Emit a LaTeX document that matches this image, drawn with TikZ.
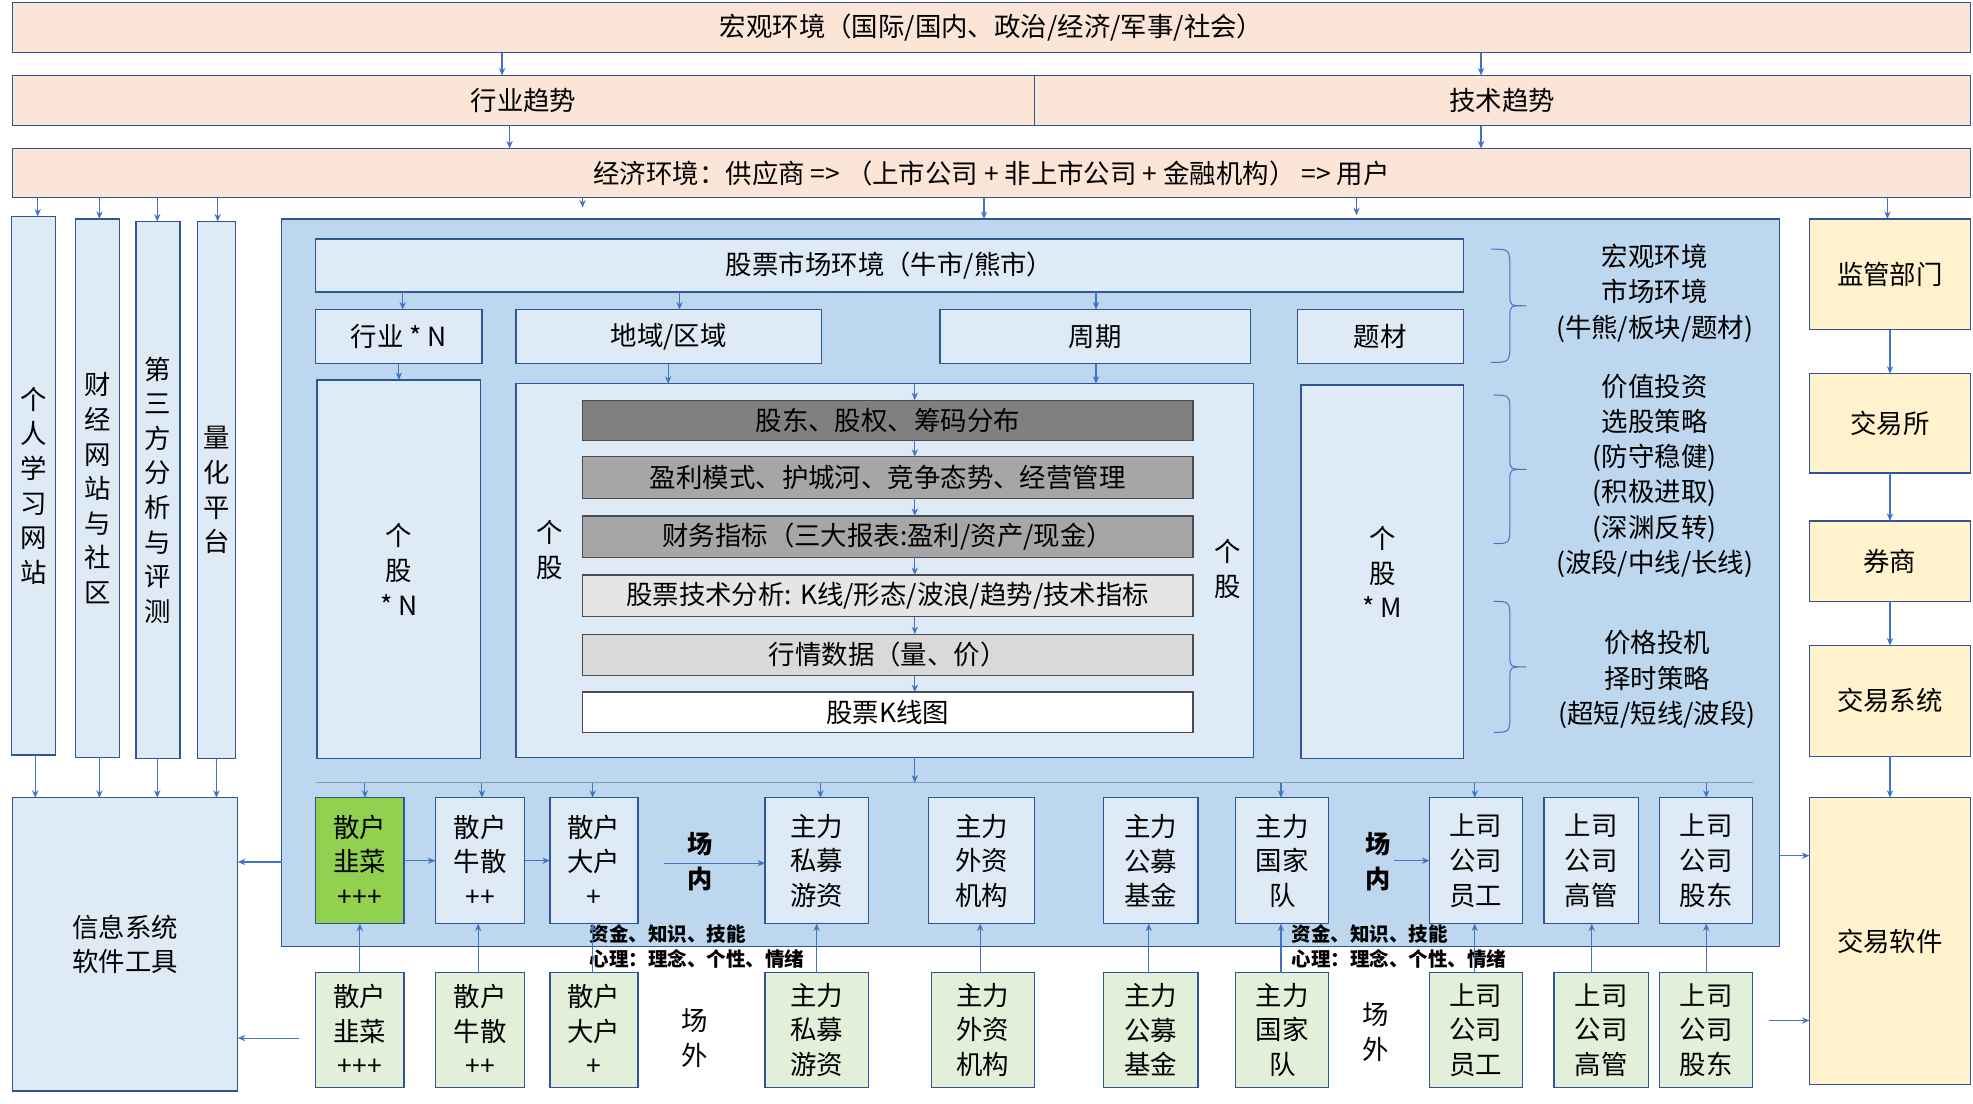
\documentclass[tikz,border=0pt]{standalone}
\usepackage{fontspec}
\setmainfont{Noto Sans CJK SC}
\usetikzlibrary{arrows.meta}
\definecolor{bd}{HTML}{2F5597}
\definecolor{peach}{HTML}{FBE5D6}
\definecolor{lb}{HTML}{DEEBF7}
\definecolor{mb}{HTML}{BDD7EE}
\definecolor{yl}{HTML}{FFF2CC}
\definecolor{lg}{HTML}{E2F0D9}
\definecolor{gr}{HTML}{92D050}
\definecolor{arr}{HTML}{4472C4}
\tikzset{
  bb/.style={draw=bd,line width=1pt,inner sep=0pt,outer sep=0pt,align=center,font=\fontsize{21}{27.5}\selectfont},
  pe/.style={bb,fill=peach},
  lbx/.style={bb,fill=lb},
  yb/.style={bb,fill=yl},
  ob/.style={bb,fill=lg},
  ar/.style={-{Stealth[length=6pt,width=5pt]},draw=arr,line width=0.9pt},
  brk/.style={draw=arr,line width=0.8pt},
  big/.style={font=\fontsize{21}{28}\selectfont,align=center},
  sm/.style={font=\bfseries\fontsize{15.5}{17}\selectfont,anchor=west},
}
\newcommand{\bx}[7]{\node[#6,anchor=north west,minimum width={(#4-#2)*1pt},minimum height={(#5-#3)*1pt}] (#1) at (#2,-#3) {#7};}
\begin{document}
\begin{tikzpicture}[x=1pt,y=1pt]
\useasboundingbox (0,0) rectangle (1568,-877);
\fill[white] (0,0) rectangle (1568,-877);
\bx{top}{10}{2}{1566}{42}{pe}{宏观环境（国际/国内、政治/经济/军事/社会）}
\bx{ind}{10}{60}{822}{100}{pe}{行业趋势}
\bx{tech}{822}{60}{1566}{100}{pe}{技术趋势}
\bx{eco}{10}{118}{1566}{157}{pe}{经济环境：供应商 => （上市公司 + 非上市公司 + 金融机构） => 用户}
\bx{v1}{9}{172}{44}{600}{lbx}{个\\人\\学\\习\\网\\站}
\bx{v2}{60}{174}{95}{602}{lbx}{财\\经\\网\\站\\与\\社\\区}
\bx{v3}{108}{176}{143}{603}{lbx}{第\\三\\方\\分\\析\\与\\评\\测}
\bx{v4}{157}{176}{187}{603}{lbx}{量\\化\\平\\台}
\bx{info}{10}{634}{189}{867}{lbx}{信息系统\\软件工具}
\bx{big}{224}{174}{1414}{752}{bb,fill=mb}{}
\bx{mkt}{251}{190}{1163}{232}{lbx}{股票市场环境（牛市/熊市）}
\bx{hy}{251}{246}{383}{289}{lbx}{行业 * N}
\bx{dy}{410}{246}{653}{289}{lbx}{地域/区域}
\bx{zq}{747}{246}{994}{289}{lbx}{周期}
\bx{tc}{1031}{246}{1163}{289}{lbx}{题材}
\bx{gn}{252}{302}{382}{603}{lbx}{个\\股\\* N}
\bx{mid}{410}{305}{996}{602}{lbx}{}
\bx{gm}{1034}{306}{1163}{603}{lbx}{个\\股\\* M}
\node[big] (ga) at (437,-437) {个\\股};
\node[big] (gb) at (976,-452) {个\\股};
\bx{s1}{463}{318}{948}{350}{bb,draw=black!70,fill=black!50}{股东、股权、筹码分布}
\bx{s2}{463}{363}{948}{396}{bb,draw=black!70,fill=black!35}{盈利模式、护城河、竞争态势、经营管理}
\bx{s3}{463}{410}{948}{443}{bb,draw=black!70,fill=black!35}{财务指标（三大报表:盈利/资产/现金）}
\bx{s4}{463}{457}{948}{490}{bb,draw=black!70,fill=black!10}{股票技术分析: K线/形态/波浪/趋势/技术指标}
\bx{s5}{463}{504}{948}{537}{bb,draw=black!70,fill=black!15}{行情数据（量、价）}
\bx{s6}{463}{550}{948}{582}{bb,draw=black!70,fill=white}{股票K线图}
\draw[draw=bd!60,line width=0.6pt] (251,-622) coordinate (ln1) -- (1393,-622) coordinate (ln2);
\node[big] (n1) at (1315,-233) {宏观环境\\市场环境\\(牛熊/板块/题材)};
\node[big] (n2) at (1315,-378) {价值投资\\选股策略\\(防守稳健)\\(积极进取)\\(深渊反转)\\(波段/中线/长线)};
\node[big] (n3) at (1317,-540) {价格投机\\择时策略\\(超短/短线/波段)};
\draw[brk] (1185,-198) .. controls (1200,-198) .. (1200,-215) -- (1200,-235) .. controls (1200,-243) .. (1213,-243) .. controls (1200,-243) .. (1200,-251) -- (1200,-271) .. controls (1200,-288) .. (1185,-288);
\draw[brk] (1187,-314) .. controls (1200,-314) .. (1200,-330) -- (1200,-365) .. controls (1200,-373) .. (1213,-373) .. controls (1200,-373) .. (1200,-381) -- (1200,-416) .. controls (1200,-432) .. (1187,-432);
\draw[brk] (1187,-478) .. controls (1200,-478) .. (1200,-494) -- (1200,-522) .. controls (1200,-530) .. (1213,-530) .. controls (1200,-530) .. (1200,-538) -- (1200,-566) .. controls (1200,-582) .. (1187,-582);
\bx{jg}{1438}{174}{1566}{262}{yb}{监管部门}
\bx{jys}{1438}{297}{1566}{376}{yb}{交易所}
\bx{qs}{1438}{414}{1566}{478}{yb}{券商}
\bx{jyxt}{1438}{513}{1566}{601}{yb}{交易系统}
\bx{jyrj}{1438}{634}{1566}{862}{yb}{交易软件}
\bx{i1}{251}{634}{321}{734}{bb,fill=gr}{散户\\韭菜\\+++}
\bx{i2}{346}{634}{417}{734}{lbx}{散户\\牛散\\++}
\bx{i3}{437}{634}{507}{734}{lbx}{散户\\大户\\+}
\bx{i4}{608}{634}{690}{734}{lbx}{主力\\私募\\游资}
\bx{i5}{738}{634}{822}{734}{lbx}{主力\\外资\\机构}
\bx{i6}{877}{634}{952}{734}{lbx}{主力\\公募\\基金}
\bx{i7}{982}{634}{1056}{734}{lbx}{主力\\国家\\队}
\bx{i8}{1136}{634}{1210}{734}{lbx}{上司\\公司\\员工}
\bx{i9}{1227}{634}{1302}{734}{lbx}{上司\\公司\\高管}
\bx{i10}{1319}{634}{1393}{734}{lbx}{上司\\公司\\股东}
\node[big,font=\bfseries\fontsize{20}{28}\selectfont] (cn1) at (556,-685) {场\\内};
\node[big,font=\bfseries\fontsize{20}{28}\selectfont] (cn2) at (1095,-685) {场\\内};
\bx{o1}{251}{773}{321}{864}{ob}{散户\\韭菜\\+++}
\bx{o2}{346}{773}{417}{864}{ob}{散户\\牛散\\++}
\bx{o3}{437}{773}{507}{864}{ob}{散户\\大户\\+}
\bx{o4}{608}{773}{690}{864}{ob}{主力\\私募\\游资}
\bx{o5}{740}{773}{822}{864}{ob}{主力\\外资\\机构}
\bx{o6}{877}{773}{952}{864}{ob}{主力\\公募\\基金}
\bx{o7}{982}{773}{1056}{864}{ob}{主力\\国家\\队}
\bx{o8}{1136}{773}{1210}{864}{ob}{上司\\公司\\员工}
\bx{o9}{1235}{773}{1310}{864}{ob}{上司\\公司\\高管}
\bx{o10}{1319}{773}{1393}{864}{ob}{上司\\公司\\股东}
\node[big] (cw1) at (552,-825) {场\\外};
\node[big] (cw2) at (1093,-820) {场\\外};
\node[sm] (l1) at (465,-742) {资金、知识、技能};
\node[sm] (l2) at (465,-762) {心理：理念、个性、情绪};
\node[sm] (l3) at (1023,-742) {资金、知识、技能};
\node[sm] (l4) at (1023,-762) {心理：理念、个性、情绪};
\draw[ar] (top.south -| 399,0) -- (ind.north -| 399,0);
\draw[ar] (top.south -| 1177,0) -- (tech.north -| 1177,0);
\draw[ar] (ind.south -| 405,0) -- (eco.north -| 405,0);
\draw[ar] (tech.south -| 1177,0) -- (eco.north -| 1177,0);
\draw[ar] (eco.south -| 30,0) -- (v1.north -| 30,0);
\draw[ar] (eco.south -| 79,0) -- (v2.north -| 79,0);
\draw[ar] (eco.south -| 125,0) -- (v3.north -| 125,0);
\draw[ar] (eco.south -| 173,0) -- (v4.north -| 173,0);
\draw[ar] (eco.south -| 463,0) -- ++(0,-8);
\draw[ar] (eco.south -| 782,0) -- (big.north -| 782,0);
\draw[ar] (eco.south -| 1078,0) -- ++(0,-14);
\draw[ar] (eco.south -| 1500,0) -- (jg.north -| 1500,0);
\draw[ar] (v1.south -| 28,0) -- (info.north -| 28,0);
\draw[ar] (v2.south -| 79,0) -- (info.north -| 79,0);
\draw[ar] (v3.south -| 125,0) -- (info.north -| 125,0);
\draw[ar] (v4.south -| 172,0) -- (info.north -| 172,0);
\draw[ar] (jg) -- (jys);
\draw[ar] (jys) -- (qs);
\draw[ar] (qs) -- (jyxt);
\draw[ar] (jyxt) -- (jyrj);
\draw[ar] (mkt.south -| 320,0) -- (hy.north -| 320,0);
\draw[ar] (mkt.south -| 540,0) -- (dy.north -| 540,0);
\draw[ar] (mkt.south -| 871,0) -- (zq.north -| 871,0);
\draw[ar] (hy.south -| 317,0) -- (gn.north -| 317,0);
\draw[ar] (dy.south -| 531,0) -- (mid.north -| 531,0);
\draw[ar] (zq.south -| 871,0) -- (mid.north -| 871,0);
\draw[ar] (mid.north -| 727,0) -- (s1.north -| 727,0);
\draw[ar] (s1.south -| 727,0) -- (s2.north -| 727,0);
\draw[ar] (s2.south -| 727,0) -- (s3.north -| 727,0);
\draw[ar] (s3.south -| 727,0) -- (s4.north -| 727,0);
\draw[ar] (s4.south -| 727,0) -- (s5.north -| 727,0);
\draw[ar] (s5.south -| 727,0) -- (s6.north -| 727,0);
\draw[ar] (mid.south -| 727,0) -- (ln1 -| 727,0);
\foreach \n/\x in {i1/290,i2/383,i3/471,i4/652,i7/1018,i8/1172,i10/1356}{\draw[ar] (ln1 -| \x,0) -- (\n.north -| \x,0);}
\draw[ar] (i1) -- (i2);
\draw[ar] (i2) -- (i3);
\draw[ar] (528,-686) -- (i4.west |- 0,-686);
\draw[ar] (1108,-684) -- (i8.west |- 0,-684);
\foreach \a/\b/\x in {o1/i1/286,o2/i2/380,o3/i3/471,o4/i4/649,o5/i5/779,o6/i6/913,o7/i7/1018,o8/i8/1172,o9/i9/1265,o10/i10/1356}{\draw[ar] (\a.north -| \x,0) -- (\b.south -| \x,0);}
\draw[ar] (big.west |- 0,-685) -- (info.east |- 0,-685);
\draw[ar] (238,-825) -- (info.east |- 0,-825);
\draw[ar] (big.east |- 0,-680) -- (jyrj.west |- 0,-680);
\draw[ar] (1406,-811) -- (jyrj.west |- 0,-811);
\end{tikzpicture}
\end{document}
